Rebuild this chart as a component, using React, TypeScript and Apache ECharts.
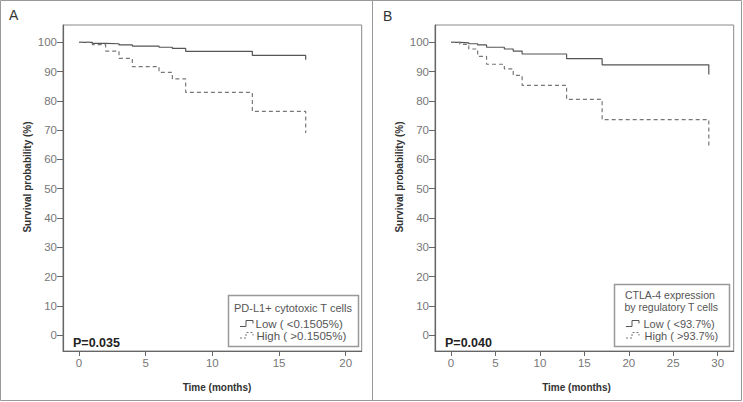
import React, { useEffect, useRef } from "react";
import * as echarts from "echarts";

// Panel A: PD-L1+ cytotoxic T cells
const timesA = [0, 1, 2, 3, 4, 6, 7, 8, 13, 17];
const lowA = [100, 99.6, 99.5, 99.1, 98.7, 98.3, 97.9, 96.9, 95.5, 94.0];
const highA = [100, 99.2, 97.0, 94.5, 91.7, 89.7, 87.5, 82.9, 76.4, 69.0];

// Panel B: CTLA-4 expression by regulatory T cells
const timesB = [0, 1, 2, 3, 4, 6, 7, 8, 13, 17, 29];
const lowB = [100, 99.8, 99.5, 99.1, 98.3, 97.7, 97.0, 96.0, 94.4, 92.3, 89.0];
const highB = [100, 99.3, 97.7, 95.2, 92.5, 90.9, 88.7, 85.3, 80.5, 73.6, 63.8];

const yTicks = [0, 10, 20, 30, 40, 50, 60, 70, 80, 90, 100];
const xTicksA = [0, 5, 10, 15, 20];
const xTicksB = [0, 5, 10, 15, 20, 25, 30];

const FONT = "'Liberation Sans', Arial, sans-serif";

function txt(x: number, y: number, text: string, opts: any = {}) {
  const align = opts.align || "left";
  return {
    type: "text",
    x,
    y,
    rotation: opts.rotation || 0,
    silent: true,
    style: {
      text,
      fontFamily: FONT,
      fontSize: opts.fontSize || 11,
      fontWeight: opts.bold ? "bold" : "normal",
      fill: opts.color || "#555",
      align,
      textAlign: align,
      verticalAlign: "middle",
      textVerticalAlign: "middle",
    },
  };
}

export default function App() {
  const ref = useRef<HTMLDivElement>(null);
  useEffect(() => {
    document.body.style.margin = "0";
    const chart = echarts.init(ref.current!, null, { renderer: "svg" });
    const xAxis = (gridIndex: number, min: number, max: number, ticks: number[]) => ({
      type: "value",
      gridIndex,
      min,
      max,
      splitLine: { show: false },
      axisLine: { show: true, onZero: false, lineStyle: { color: "#666", width: 1.2 } },
      axisTick: { show: true, inside: false, customValues: ticks, length: 5, lineStyle: { color: "#666" } },
      axisLabel: { customValues: ticks, color: "#777", fontSize: 11.5, margin: 6, fontFamily: FONT },
    });
    const yAxis = (gridIndex: number) => ({
      type: "value",
      gridIndex,
      min: -5.4,
      max: 105.9,
      splitLine: { show: false },
      axisLine: { show: true, onZero: false, lineStyle: { color: "#666", width: 1.2 } },
      axisTick: { show: true, inside: false, customValues: yTicks, length: 6, lineStyle: { color: "#666" } },
      axisLabel: { customValues: yTicks, color: "#777", fontSize: 11.5, margin: 6, fontFamily: FONT },
    });
    const ser = (idx: number, times: number[], vals: number[], dashed: boolean) => ({
      type: "line",
      xAxisIndex: idx,
      yAxisIndex: idx,
      step: "end",
      symbol: "none",
      silent: true,
      data: times.map((t, i) => [t, vals[i]]),
      lineStyle: {
        color: dashed ? "#777" : "#555",
        width: 1.2,
        type: dashed ? [4, 3] : "solid",
      },
    });
    const icon = (x0: number, yb: number, yt: number, dashed: boolean) => ({
      type: "polyline",
      silent: true,
      shape: {
        points: [
          [x0, yb],
          [x0 + 6, yb],
          [x0 + 6, yt],
          [x0 + 13, yt],
          [x0 + 13, yt + 3],
        ],
      },
      style: {
        fill: null,
        stroke: dashed ? "#777" : "#555",
        lineWidth: 1,
        lineDash: dashed ? [2, 2] : null,
      },
    });
    chart.setOption({
      animation: false,
      grid: [
        { left: 63, top: 25, width: 298.7, height: 326, show: true, borderColor: "#888", borderWidth: 1 },
        { left: 435, top: 25, width: 298.7, height: 326, show: true, borderColor: "#888", borderWidth: 1 },
      ],
      xAxis: [xAxis(0, -1.2, 21.2, xTicksA), xAxis(1, -1.8, 31.8, xTicksB)],
      yAxis: [yAxis(0), yAxis(1)],
      series: [
        ser(0, timesA, lowA, false),
        ser(0, timesA, highA, true),
        ser(1, timesB, lowB, false),
        ser(1, timesB, highB, true),
      ],
      graphic: [
        { type: "rect", silent: true, shape: { x: 0.5, y: 0.5, width: 741, height: 400 }, style: { fill: "none", stroke: "#999", lineWidth: 1 } },
        { type: "line", silent: true, shape: { x1: 372.5, y1: 0, x2: 372.5, y2: 401 }, style: { stroke: "#999", lineWidth: 1 } },
        txt(9, 15, "A", { fontSize: 14, color: "#333" }),
        txt(383, 15.5, "B", { fontSize: 14, color: "#333" }),
        txt(27, 177, "Survival probability (%)", { rotation: Math.PI / 2, align: "center", bold: true, fontSize: 10, color: "#333" }),
        txt(399, 177, "Survival probability (%)", { rotation: Math.PI / 2, align: "center", bold: true, fontSize: 10, color: "#333" }),
        txt(217, 387, "Time (months)", { align: "center", bold: true, fontSize: 10, color: "#333" }),
        txt(576.5, 387, "Time (months)", { align: "center", bold: true, fontSize: 10, color: "#333" }),
        txt(73, 343, "P=0.035", { bold: true, fontSize: 12.5, color: "#222" }),
        txt(445, 343, "P=0.040", { bold: true, fontSize: 12.5, color: "#222" }),
        // Legend A
        { type: "rect", silent: true, shape: { x: 228.5, y: 295.5, width: 130, height: 51 }, style: { fill: "#fff", stroke: "#999", lineWidth: 1.5 } },
        txt(234, 307.5, "PD-L1+ cytotoxic T cells", { fontSize: 11 }),
        icon(240, 326.5, 320.5, false),
        txt(255.5, 323.5, "Low ( <0.1505%)", { fontSize: 11.5 }),
        icon(240, 338, 332.5, true),
        txt(256.5, 335.5, "High ( >0.1505%)", { fontSize: 11.5 }),
        // Legend B
        { type: "rect", silent: true, shape: { x: 614.5, y: 284.5, width: 115, height: 62 }, style: { fill: "#fff", stroke: "#999", lineWidth: 1.5 } },
        txt(625, 295, "CTLA-4 expression", { fontSize: 10.5 }),
        txt(624.5, 306.5, "by regulatory T cells", { fontSize: 10.5 }),
        icon(626, 326.5, 320.5, false),
        txt(643.5, 323.5, "Low ( <93.7%)", { fontSize: 11 }),
        icon(626, 338, 332.5, true),
        txt(644.5, 335.5, "High ( >93.7%)", { fontSize: 11 }),
      ],
    });
    return () => chart.dispose();
  }, []);
  return <div ref={ref} style={{ width: 743, height: 402 }} />;
}
